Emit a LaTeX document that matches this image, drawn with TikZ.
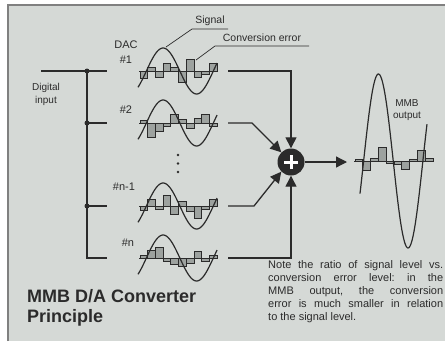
\documentclass[tikz,border=0pt]{standalone}
\usepackage{fontspec}
\setmainfont{Liberation Sans}
\usepackage{xcolor}
\usetikzlibrary{arrows.meta}

\definecolor{panel}{HTML}{D5D9D6}
\definecolor{ink}{HTML}{2B2B2B}
\definecolor{errfill}{HTML}{9DA29F}

% one DAC: baseline y, list of error steps
\newcommand{\dacwave}[2]{%
  \foreach \h [count=\i from 0] in {#2}
    \filldraw[errbar] ({140+\i*7.7},#1) rectangle ++(7.7,-\h);
  \draw[thin line] (139,#1) -- (218,#1);
  \draw[wave] plot[domain=-45:380, samples=80, smooth] ({138+(\x+45)*0.186}, {#1-23*sin(\x)});
}

\begin{document}
\begin{tikzpicture}[x=1pt, y=-1pt,
    bus/.style={ink, line width=1.3pt},
    wave/.style={ink, line width=1.2pt},
    thin line/.style={ink, line width=0.7pt},
    errbar/.style={fill=errfill, draw=ink, line width=0.7pt},
    feed/.style={ink, line width=1.3pt, -{Triangle[length=11pt, width=11pt]}},
    junction/.style={circle, fill=ink, inner sep=0pt, minimum size=5pt},
    label/.style={text=ink, font=\fontsize{10}{12}\selectfont, align=center, inner sep=1pt}]
    \useasboundingbox (0,0) rectangle (445,341);

    % Panel
    \fill[white] (0,0) rectangle (445,341);
    \fill[panel] (8,5) rectangle (445,341);
    \draw[gray, line width=1.5pt] (8,341) -- (8,5) -- (445,5);

    % Digital input bus
    \coordinate (in) at (41,71);
    \node[junction] (j1) at (87,71) {};
    \node[junction] (j2) at (87,123) {};
    \node[junction] (j3) at (87,206) {};
    \coordinate (j4) at (87,258);
    \coordinate (b1) at (107,71);
    \coordinate (b2) at (107,123);
    \coordinate (b3) at (107,206);
    \coordinate (b4) at (107,258);
    \draw[bus] (in) -- (b1);
    \draw[bus] (j1.center) -- (j4) -- (b4);
    \draw[bus] (j2.center) -- (b2);
    \draw[bus] (j3.center) -- (b3);
    \node[label, font=\fontsize{10}{13}\selectfont] (digin) at (46,94) {Digital\\input};

    % DACs
    \dacwave{71}{-7,4,-6,8,4,-11,12,-6,-3,8}
    \dacwave{123}{3,-14,-8,-3,9,4,-5,5,9,-3}
    \dacwave{206}{-4,7,-3,11,-8,5,-5,-12,-3,7}
    \dacwave{258}{3,8,11,-3,-6,-8,-5,7,-3,3}
    \node[label, font=\fontsize{11}{15}\selectfont] (dac1) at (126,52) {DAC\\\#1};
    \node[label, font=\fontsize{11}{12}\selectfont] (dac2) at (126,110) {\#2};
    \node[label, font=\fontsize{11}{12}\selectfont] (dacn1) at (124,187) {\#n-1};
    \node[label, font=\fontsize{11}{12}\selectfont] (dacn) at (128,243) {\#n};
    \fill[ink] (178,155) circle (1.3) (178,163.5) circle (1.3) (178,172) circle (1.3);

    % Signal / error labels
    \node[label, font=\fontsize{10.5}{12}\selectfont] (sig) at (210,21) {Signal};
    \node[label, font=\fontsize{10.5}{12}\selectfont] (err) at (262,38) {Conversion error};
    \coordinate (sigpeak) at (166,47);
    \coordinate (errbar) at (196,60);
    \draw[thin line] (sigpeak) -- (192,29) -- (228,29);
    \draw[thin line] (errbar) -- (215,46) -- (309,46);

    % Summing node
    \node[circle, fill=ink, minimum size=27pt, inner sep=0pt] (sum) at (291,162) {};
    \draw[white, line width=3pt] ([xshift=-7pt]sum.center) -- ([xshift=7pt]sum.center);
    \draw[white, line width=3pt] ([yshift=-7pt]sum.center) -- ([yshift=7pt]sum.center);
    \coordinate (o1) at (228,71);
    \coordinate (o2) at (228,123);
    \coordinate (o3) at (228,206);
    \coordinate (o4) at (228,258);
    \draw[feed] (o1) -| (sum.north);
    \draw[feed] (o2) -- (252,123) -- (sum.135);
    \draw[feed] (o3) -- (254,206) -- (sum.225);
    \draw[feed] (o4) -| (sum.south);
    \coordinate (out) at (347,162);
    \draw[feed] (sum.east) -- (out);

    % MMB output
    \foreach \h [count=\i from 0] in {2,-9,3,14,-2,-3,-8,2,11,3}
      \filldraw[errbar] ({355+\i*7.8},161) rectangle ++(7.8,-\h);
    \draw[thin line] (354,161) -- (434,161);
    \draw[wave] plot[domain=-22:385, samples=100, smooth] ({360+(\x+22)*0.1646}, {161-87*sin(\x)});
    \node[label] (mmbout) at (407,110) {MMB\\output};

    % Title and note
    \node[anchor=north west, text=ink, font=\bfseries\fontsize{18}{20}\selectfont, align=left, inner sep=0pt] (title) at (27,289) {MMB D/A Converter\\Principle};
    \node[anchor=north west, text=ink, font=\fontsize{11}{13}\selectfont, text width=175pt, align=justify, inner sep=0pt] (note) at (268,260)
      {\frenchspacing\hyphenpenalty=10000 Note the ratio of signal level vs.\linebreak conversion error level: in the\linebreak MMB output, the conversion\linebreak error is much smaller in relation\linebreak to the signal level.};
\end{tikzpicture}
\end{document}
